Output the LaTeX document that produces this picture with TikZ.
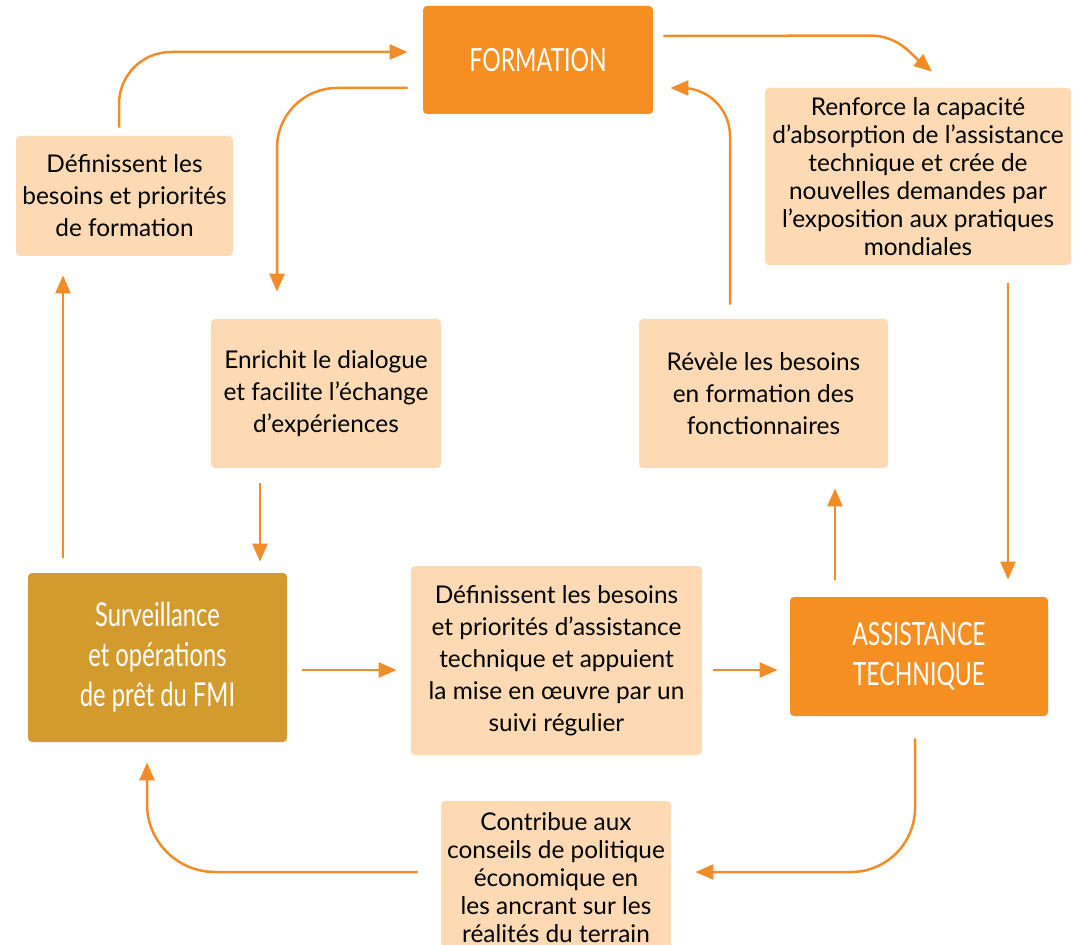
\documentclass[tikz,border=0pt]{standalone}
\usepackage{fontspec}
\setmainfont{Lato}
\newfontfamily\headfont[FakeStretch=0.72]{Lato}
\usetikzlibrary{arrows.meta}
\definecolor{fmiorange}{HTML}{F58F22}
\definecolor{fmipale}{HTML}{FDDAB4}
\definecolor{fmigold}{HTML}{D39A2E}
\definecolor{fmiline}{HTML}{F28C28}
\tikzset{
	pale/.style={fill=fmipale, rounded corners=2pt, align=center, inner sep=0pt, font=\fontsize{12.2}{16}\selectfont},
	palefine/.style={pale, font=\fontsize{12.2}{14}\selectfont},
	head/.style={fill=fmiorange, rounded corners=2pt, align=center, inner sep=0pt, text=white, font={\headfont\fontsize{16}{20}\selectfont}},
	link/.style={draw=fmiline, line width=1.25pt, -{Triangle[length=9pt,width=7.5pt]}},
}

\begin{document}
\begin{tikzpicture}[x=0.5pt, y=-0.5pt]
		%%%%% START %%%%%
		\useasboundingbox (0, 0) rectangle (1079, 945);
		
		\node[head, minimum width=115pt, minimum height=54pt] (form) at (538, 60) {FORMATION};
		\node[head, minimum width=129pt, minimum height=59.5pt] (at) at (919, 656.5) {ASSISTANCE\\TECHNIQUE};
		\node[head, fill=fmigold, minimum width=129.5pt, minimum height=84.5pt, font={\headfont\fontsize{16.5}{20}\selectfont}] (surv) at (157.5, 657.5) {Surveillance\\et opérations\\de prêt du FMI};
		
		\node[pale, minimum width=108.5pt, minimum height=60pt] (defform) at (124.5, 196) {Définissent les\\besoins et priorités\\de formation};
		\node[palefine, minimum width=153pt, minimum height=88.5pt] (renf) at (918, 176.5) {Renforce la capacité\\d’absorption de l’assistance\\technique et crée de\\nouvelles demandes par\\l’exposition aux pratiques\\mondiales};
		\node[pale, minimum width=115pt, minimum height=74.5pt] (enrich) at (326, 393.5) {Enrichit le dialogue\\et facilite l’échange\\d’expériences};
		\node[pale, minimum width=124.5pt, minimum height=74.5pt] (revele) at (763.5, 393.5) {Révèle les besoins\\en formation des\\fonctionnaires};
		\node[pale, minimum width=145.5pt, minimum height=94.5pt] (defat) at (556.5, 660.5) {Définissent les besoins\\et priorités d’assistance\\technique et appuient\\la mise en œuvre par un\\suivi régulier};
		\node[palefine, minimum width=115pt, minimum height=77pt] (contrib) at (556, 878) {Contribue aux\\conseils de politique\\économique en\\les ancrant sur les\\réalités du terrain};
		
		\draw[link, rounded corners=26pt] ([shift={(-5.5,-8)}]defform.north) |- ([shift={(-15,-8)}]form.west);
		\draw[link, rounded corners=30pt] ([shift={(-15,28)}]form.west) -| ([shift={(-49,-27)}]enrich.north);
		\draw[link] ([shift={(-66,15)}]enrich.south) -- ([shift={(102.5,-11)}]surv.north);
		\draw[link] ([shift={(-94.5,-15)}]surv.north) -- ([shift={(-61.5,19)}]defform.south);
		
		\draw[link] ([shift={(15,12.5)}]surv.east) -- ([shift={(-14,9.5)}]defat.west);
		\draw[link] ([shift={(11,9.5)}]defat.east) -- ([shift={(-12,13.5)}]at.west);
		\draw[link] ([shift={(-84,-17)}]at.north) -- ([shift={(71.5,20)}]revele.south);
		\draw[link, rounded corners=24pt] ([shift={(-33.5,-14)}]revele.north) |- ([shift={(17,28)}]form.east);
		
		\draw[link] ([shift={(10,-24)}]form.east) -- ([shift={(-48,-52)}]renf.north) to[out=0, in=140] ([shift={(14,-16)}]renf.north);
		\draw[link] ([shift={(90,18)}]renf.south) -- ([shift={(89,-17)}]at.north);
		\draw[link, rounded corners=32pt] ([shift={(-4,22)}]at.south) |- ([shift={(24,-6)}]contrib.east);
		\draw[link, rounded corners=34pt] ([shift={(-23,-6)}]contrib.west) -| ([shift={(-10.5,20)}]surv.south);
		%%%%% END %%%%%
	\end{tikzpicture}
\end{document}
